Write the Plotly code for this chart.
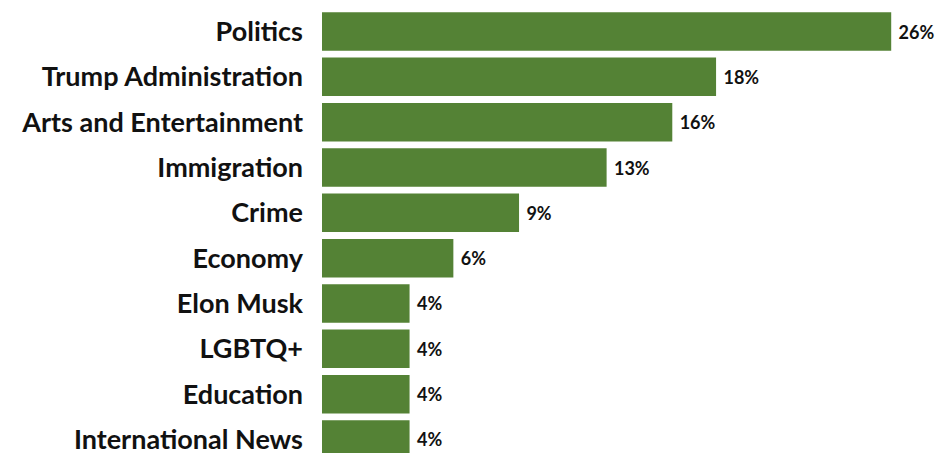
import plotly.graph_objects as go

categories = ["Politics", "Trump Administration", "Arts and Entertainment", "Immigration",
              "Crime", "Economy", "Elon Musk", "LGBTQ+", "Education", "International News"]
values = [26, 18, 16, 13, 9, 6, 4, 4, 4, 4]

fig = go.Figure(go.Bar(
    x=values, y=categories, orientation="h",
    marker=dict(color="#548235", line=dict(width=0)),
    width=0.85,
    text=[f" {v}%" for v in values], textposition="outside",
    textfont=dict(family="Lato", size=18, color="#111111", weight="bold"),
    cliponaxis=False,
))

fig.update_layout(
    width=939, height=453,
    margin=dict(l=322, r=4, t=0, b=0, autoexpand=False),
    paper_bgcolor="white", plot_bgcolor="white",
    showlegend=False,
    xaxis=dict(range=[0, 28], visible=False, showgrid=False, zeroline=False, automargin=False),
    yaxis=dict(categoryorder="array", categoryarray=categories, automargin=False,
               range=[9.298, -0.695], showgrid=False, zeroline=False, showline=False,
               ticks="", ticklabelstandoff=18,
               tickfont=dict(family="Lato", size=27, color="#111111", weight="bold")),
)

fig.write_html("out.html", config={"displayModeBar": False},
               post_script="document.body.style.margin='0';document.body.style.overflow='hidden';")
